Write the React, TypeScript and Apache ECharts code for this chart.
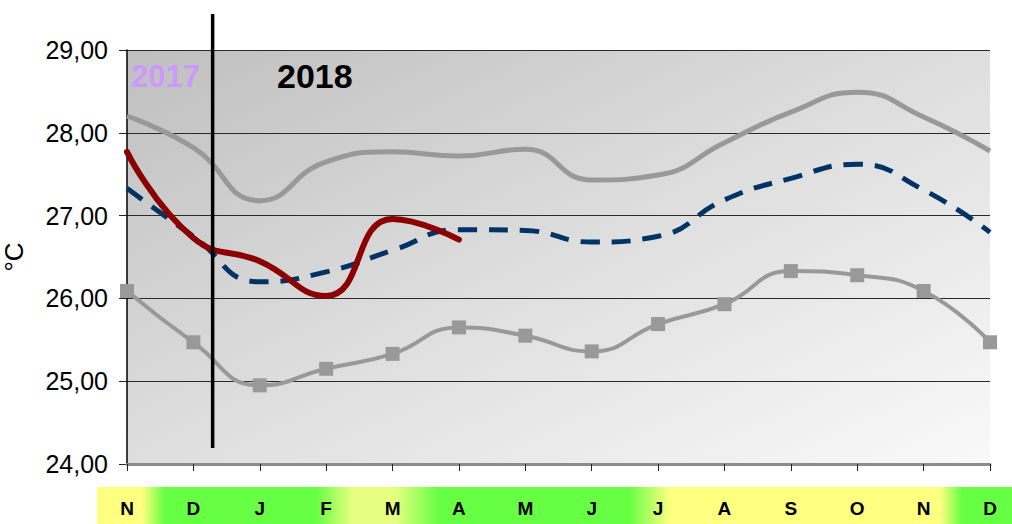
import React, { useEffect, useRef } from 'react';
import * as echarts from 'echarts';

const months = ['N', 'D', 'J', 'F', 'M', 'A', 'M', 'J', 'J', 'A', 'S', 'O', 'N', 'D'];
const maxTemp = [28.2, 27.82, 27.18, 27.65, 27.77, 27.72, 27.8, 27.43, 27.49, 27.88, 28.25, 28.49, 28.19, 27.78];
const meanTemp = [27.33, 26.75, 26.2, 26.32, 26.58, 26.83, 26.82, 26.68, 26.75, 27.19, 27.45, 27.62, 27.31, 26.8];
const minTemp = [26.09, 25.47, 24.95, 25.15, 25.33, 25.65, 25.55, 25.36, 25.69, 25.93, 26.33, 26.28, 26.09, 25.47];
const temp2018 = [27.77, 26.73, 26.45, 26.03, 26.96, 26.71, null, null, null, null, null, null, null, null];
const yearLabels = ['2017', '2018'];

export default function App() {
  const ref = useRef<HTMLDivElement>(null);
  useEffect(() => {
    document.body.style.margin = '0';
    const chart = echarts.init(ref.current!, null, { renderer: 'svg' });
    const option: any = {
      animation: false,
      grid: {
        left: 127,
        right: 22,
        top: 50,
        bottom: 60,
        show: true,
        borderWidth: 0,
        containLabel: false,
        outerBoundsMode: 'none',
        backgroundColor: new echarts.graphic.LinearGradient(0, 0, 1, 1, [
          { offset: 0, color: '#bfbfbf' },
          { offset: 0.5, color: '#dedede' },
          { offset: 1, color: '#f9f9f9' },
        ]),
      },
      xAxis: {
        type: 'category',
        data: months,
        boundaryGap: false,
        axisLine: { lineStyle: { color: '#8c8c8c', width: 3 } },
        axisTick: { show: true, length: 7, alignWithLabel: true, lineStyle: { color: '#222', width: 1 } },
        axisLabel: {
          margin: 35,
          color: '#000',
          fontSize: 19,
          fontWeight: 'bold',
          fontFamily: '"Liberation Sans Narrow", "Arial Narrow", "Liberation Sans", sans-serif',
        },
        splitLine: { show: false },
        z: 5,
      },
      yAxis: {
        type: 'value',
        min: 24,
        max: 29,
        interval: 1,
        name: '°C',
        nameLocation: 'middle',
        nameGap: 100,
        nameRotate: 90,
        nameTextStyle: { fontSize: 26, color: '#000', fontFamily: '"Liberation Sans", Arial, sans-serif' },
        axisLine: { show: true, lineStyle: { color: '#000', width: 1.5 } },
        axisTick: { show: true, length: 8, lineStyle: { color: '#222', width: 1 } },
        axisLabel: {
          margin: 19,
          color: '#000',
          fontSize: 25,
          fontFamily: '"Liberation Sans", Arial, sans-serif',
          formatter: (v: number) => v.toFixed(2).replace('.', ','),
        },
        splitLine: { show: true, lineStyle: { color: '#2a2a2a', width: 1 } },
      },
      series: [
        {
          name: 'max',
          type: 'line',
          data: maxTemp,
          smooth: 0.5,
          showSymbol: false,
          symbol: 'none',
          lineStyle: { color: '#999999', width: 5 },
          itemStyle: { color: '#999999' },
          z: 3,
        },
        {
          name: 'mean',
          type: 'line',
          data: meanTemp,
          smooth: 0.5,
          symbol: 'none',
          lineStyle: { color: '#003366', width: 5, type: [19, 12] },
          itemStyle: { color: '#003366' },
          z: 4,
        },
        {
          name: 'min',
          type: 'line',
          data: minTemp,
          smooth: 0.5,
          symbol: 'rect',
          symbolSize: 14,
          lineStyle: { color: '#999999', width: 4 },
          itemStyle: { color: '#999999' },
          z: 3,
        },
        {
          name: '2018',
          type: 'line',
          data: temp2018,
          smooth: 0.5,
          symbol: 'none',
          connectNulls: false,
          lineStyle: { color: '#8b0000', width: 6, cap: 'round' },
          itemStyle: { color: '#8b0000' },
          z: 6,
        },
      ],
    };
    chart.setOption(option);
    const x1 = chart.convertToPixel({ xAxisIndex: 0 }, 1) as number;
    const x2 = chart.convertToPixel({ xAxisIndex: 0 }, 2) as number;
    const sepX = x1 + 0.29 * (x2 - x1);
    const bandLeft = 97;
    const bandW = 1012 - bandLeft;
    const f = (px: number) => (px - bandLeft) / bandW;
    const Y = '#ffff80';
    const G = '#66ff44';
    const YG = '#e6ff80';
    chart.setOption({
      graphic: [
        {
          type: 'rect',
          z: -10,
          silent: true,
          shape: { x: bandLeft, y: 487, width: bandW, height: 40 },
          style: {
            fill: new echarts.graphic.LinearGradient(0, 0, 1, 0, [
              { offset: 0, color: Y },
              { offset: f(142), color: Y },
              { offset: f(165), color: G },
              { offset: f(316), color: G },
              { offset: f(352), color: YG },
              { offset: f(395), color: YG },
              { offset: f(439), color: G },
              { offset: f(629), color: G },
              { offset: f(670), color: Y },
              { offset: f(940), color: Y },
              { offset: f(962), color: G },
              { offset: 1, color: G },
            ]),
          },
        },
        {
          type: 'line',
          z: 100,
          silent: true,
          shape: { x1: sepX, y1: 14, x2: sepX, y2: 448 },
          style: { stroke: '#000', lineWidth: 3.5 },
        },
        {
          type: 'text',
          z: 100,
          silent: true,
          style: {
            text: yearLabels[0],
            x: 131,
            y: 76,
            align: 'left',
            verticalAlign: 'middle',
            font: 'bold 31px "Liberation Sans", Arial, sans-serif',
            fill: '#cc99ff',
          },
        },
        {
          type: 'text',
          z: 100,
          silent: true,
          style: {
            text: yearLabels[1],
            x: 277,
            y: 76,
            align: 'left',
            verticalAlign: 'middle',
            font: 'bold 34px "Liberation Sans", Arial, sans-serif',
            fill: '#000',
          },
        },
      ],
    });
    return () => chart.dispose();
  }, []);
  return <div ref={ref} style={{ position: 'absolute', left: 0, top: 0, width: 1012, height: 524 }} />;
}
